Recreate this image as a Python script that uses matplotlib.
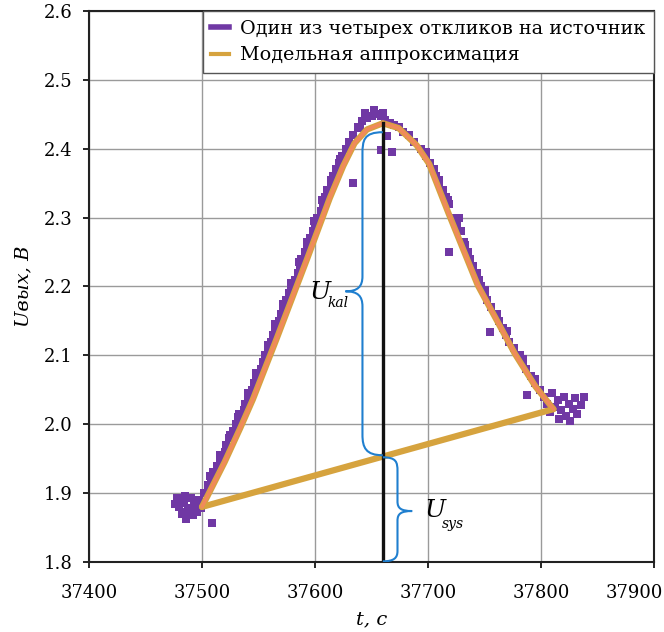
import matplotlib
matplotlib.use('Agg')
import matplotlib.pyplot as plt
from matplotlib.path import Path
from matplotlib.patches import PathPatch
from matplotlib.lines import Line2D
from matplotlib.transforms import ScaledTranslation

plt.rcParams['font.family'] = ['DejaVu Serif']
plt.rcParams['mathtext.fontset'] = 'dejavuserif'

# Измеренные точки (один из четырех откликов)
meas_t = [37478, 37480, 37482, 37483, 37484, 37486, 37487, 37488, 37490, 37491,
          37492, 37494, 37496, 37497, 37499, 37509, 37476, 37485, 37493,
          37502, 37505, 37508, 37510, 37513, 37516, 37520, 37521, 37524, 37527,
          37530, 37532, 37537, 37538, 37541, 37544, 37546, 37548, 37552, 37554,
          37556, 37558, 37561, 37563, 37565, 37568, 37570, 37572, 37574, 37577,
          37579, 37582, 37585, 37587, 37588, 37591, 37593, 37596, 37598, 37600,
          37602, 37605, 37607, 37609, 37611, 37614, 37616, 37619, 37621, 37624,
          37627, 37630, 37634,
          37507, 37516, 37525, 37533, 37541, 37548, 37558, 37565, 37572, 37579,
          37586, 37593, 37599, 37606, 37614, 37622, 37630, 37640,
          37638, 37642, 37646, 37650, 37654, 37658, 37662, 37666, 37670, 37674, 37678,
          37644, 37652, 37660,
          37634, 37658, 37668, 37664,
          37683, 37688, 37694, 37698, 37702, 37705, 37707, 37710, 37713, 37716,
          37719, 37723, 37726, 37729, 37733, 37735, 37737, 37740, 37743, 37745,
          37747, 37750, 37752, 37756, 37761, 37763, 37766, 37769, 37772, 37776,
          37781, 37784, 37787, 37791, 37795, 37799, 37803,
          37698, 37710, 37718, 37732, 37750, 37770, 37784, 37795,
          37727, 37719, 37755, 37788,
          37805, 37808, 37812, 37815, 37818, 37820, 37822, 37825, 37828, 37830,
          37832, 37835, 37838, 37826, 37816, 37810]
meas_u = [1.893, 1.880, 1.870, 1.885, 1.888, 1.862, 1.872, 1.878, 1.893, 1.876,
          1.868, 1.882, 1.872, 1.890, 1.878, 1.857, 1.884, 1.896, 1.885,
          1.900, 1.912, 1.920, 1.930, 1.940, 1.950, 1.960, 1.970, 1.980, 1.990,
          2.000, 2.010, 2.020, 2.030, 2.040, 2.050, 2.060, 2.070, 2.080, 2.090,
          2.100, 2.110, 2.120, 2.130, 2.140, 2.150, 2.160, 2.170, 2.180, 2.190,
          2.200, 2.210, 2.220, 2.230, 2.240, 2.250, 2.260, 2.270, 2.280, 2.290,
          2.300, 2.310, 2.320, 2.330, 2.340, 2.350, 2.360, 2.370, 2.380, 2.390,
          2.400, 2.410, 2.420,
          1.925, 1.955, 1.985, 2.015, 2.045, 2.075, 2.115, 2.145, 2.175, 2.205,
          2.235, 2.265, 2.295, 2.325, 2.355, 2.385, 2.410, 2.430,
          2.432, 2.440, 2.444, 2.448, 2.450, 2.447, 2.442, 2.438, 2.434, 2.432, 2.425,
          2.452, 2.456, 2.452,
          2.350, 2.398, 2.396, 2.418,
          2.420, 2.410, 2.400, 2.390, 2.380, 2.370, 2.360, 2.350, 2.340, 2.330,
          2.320, 2.300, 2.290, 2.280, 2.260, 2.250, 2.240, 2.230, 2.220, 2.210,
          2.200, 2.190, 2.180, 2.170, 2.160, 2.150, 2.140, 2.130, 2.120, 2.110,
          2.100, 2.090, 2.080, 2.070, 2.060, 2.050, 2.040,
          2.395, 2.355, 2.325, 2.265, 2.195, 2.135, 2.095, 2.065,
          2.299, 2.250, 2.134, 2.043,
          2.030, 2.018, 2.025, 2.035, 2.020, 2.040, 2.012, 2.030, 2.022, 2.038,
          2.015, 2.028, 2.040, 2.005, 2.008, 2.045]

# Модельная аппроксимация (пик + линия тренда)
model_t = [37500, 37520, 37534, 37545, 37566, 37593, 37613, 37625, 37635, 37646,
           37660, 37674, 37690, 37701, 37718, 37744, 37777, 37795, 37811]
model_u = [1.880, 1.945, 1.995, 2.036, 2.124, 2.240, 2.328, 2.375, 2.408, 2.428,
           2.437, 2.430, 2.405, 2.378, 2.307, 2.202, 2.102, 2.055, 2.022]
base_t = [37811, 37500]
base_u = [2.022, 1.880]

t_peak = 37660
u_peak = 2.437

xticks = [37400, 37500, 37600, 37700, 37800, 37900]
yticks = [1.8, 1.9, 2.0, 2.1, 2.2, 2.3, 2.4, 2.5, 2.6]

purple = '#7038a4'
gold = '#d6a33e'
salmon = '#f08a5a'
blue = '#1f7fcf'

fig = plt.figure(figsize=(6.64, 6.32), dpi=100)
ax = fig.add_axes([89 / 664, 1 - 562 / 632, 565 / 664, 551 / 632])

ax.scatter(meas_t, meas_u, marker='s', s=36, color=purple, linewidths=0, zorder=2)

ax.plot(base_t, base_u, color=gold, lw=4.5, solid_capstyle='round', zorder=3)
ax.plot(model_t, model_u, color=gold, lw=4.5, solid_capstyle='round',
        solid_joinstyle='round', zorder=3)
ax.plot(model_t, model_u, color=salmon, lw=2.6, solid_capstyle='round',
        solid_joinstyle='round', zorder=4)

ax.plot([t_peak, t_peak], [1.8, u_peak], color='#111111', lw=2.4, zorder=5)

# фигурные скобки
kal = [(37660, 2.424), (37643, 2.424), (37642, 2.412), (37642, 2.392),
       (37642, 2.215),
       (37642, 2.200), (37638, 2.193), (37627, 2.193),
       (37638, 2.193), (37642, 2.186), (37642, 2.171),
       (37642, 1.985),
       (37642, 1.966), (37645, 1.955), (37660, 1.955)]
sys_ = [(37660, 1.952), (37672, 1.952), (37673, 1.945), (37673, 1.932),
        (37673, 1.888),
        (37673, 1.878), (37676, 1.874), (37686, 1.874),
        (37676, 1.874), (37673, 1.870), (37673, 1.860),
        (37673, 1.816),
        (37673, 1.806), (37670, 1.801), (37660, 1.801)]
codes = [Path.MOVETO, Path.CURVE4, Path.CURVE4, Path.CURVE4, Path.LINETO,
         Path.CURVE4, Path.CURVE4, Path.CURVE4, Path.CURVE4, Path.CURVE4, Path.CURVE4,
         Path.LINETO, Path.CURVE4, Path.CURVE4, Path.CURVE4]
for pts in (kal, sys_):
    ax.add_patch(PathPatch(Path(pts, codes), fill=False, edgecolor=blue, lw=1.5, zorder=6))

ax.text(37595, 2.192, 'U', fontsize=18, style='italic', ha='left', va='center', zorder=7)
ax.text(37611, 2.176, 'kal', fontsize=10, style='italic', ha='left', va='center', zorder=7)
ax.text(37697, 1.875, 'U', fontsize=18, style='italic', ha='left', va='center', zorder=7)
ax.text(37712, 1.855, 'sys', fontsize=10, style='italic', ha='left', va='center', zorder=7)

ax.set_xlim(37400, 37900)
ax.set_ylim(1.8, 2.6)
ax.set_xticks(xticks)
ax.set_yticks(yticks)
ax.set_yticklabels(['%.1f' % v for v in yticks])
ax.tick_params(labelsize=13, length=4, width=1.2, direction='out')
ax.tick_params(axis='x', pad=12)
ax.tick_params(axis='y', pad=8)
ax.grid(True, color='#9a9a9a', lw=1.0)
ax.set_axisbelow(True)
for s in ax.spines.values():
    s.set_linewidth(1.5)
    s.set_color('#222222')

last = ax.get_xticklabels()[-1]
last.set_horizontalalignment('right')
last.set_transform(last.get_transform() + ScaledTranslation(9 / 100, 0, fig.dpi_scale_trans))

ax.set_xlabel('t, с', fontsize=14, style='italic', labelpad=6)
ax.set_ylabel('Uвых, В', fontsize=14, style='italic', labelpad=8)

handles = [Line2D([], [], color=purple, lw=4),
           Line2D([], [], color=gold, lw=3)]
leg = ax.legend(handles, ['Один из четырех откликов на источник', 'Модельная аппроксимация'],
                loc='upper right', fontsize=13.8, frameon=True, fancybox=False,
                edgecolor='#555555', framealpha=1, handlelength=0.9, handletextpad=0.6,
                borderaxespad=0, labelspacing=0.45, borderpad=0.45)
leg.get_frame().set_linewidth(1.0)

plt.savefig('out.png', dpi=100)
